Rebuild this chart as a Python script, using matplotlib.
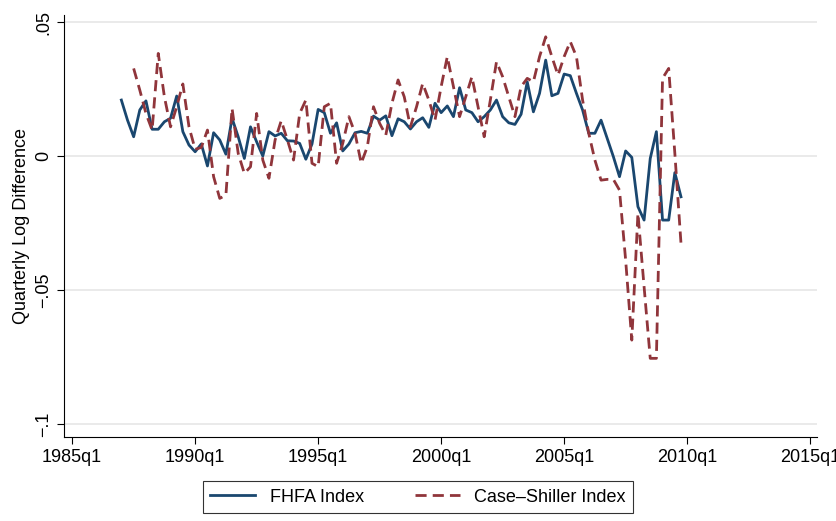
import numpy as np
import matplotlib
matplotlib.use("Agg")
import matplotlib.pyplot as plt

plt.rcParams['font.family'] = ['Liberation Sans', 'DejaVu Sans']

# --- Data (quarterly log differences) ---
fhfa_start = 1987.0   # 1987q1
fhfa = [
    .0209, .0134, .0072, .0172, .0206, .0100, .0100, .0128, .0141, .0224,
    .0091, .0041, .0016, .0045, -.0037, .0087, .0060, .0007, .0141, .0072,
    -.0009, .0109, .0053, .0000, .0091, .0075, .0085, .0057, .0056, .0047,
    -.0012, .0045, .0174, .0162, .0085,
    .0124, .0019, .0045, .0087, .0092, .0085, .0149, .0134, .0150, .0076,
    .0139, .0128, .0101, .0128, .0143, .0107, .0197, .0162, .0187, .0147,
    .0255, .0172, .0162, .0128, .0147, .0172, .0209, .0147, .0124, .0118,
    .0156, .0277, .0165, .0234, .0358,
    .0225, .0234, .0306, .0300, .0234, .0172, .0085, .0085, .0134, .0066,
    -.0002, -.0077, .0019, -.0005, -.0189, -.0239, -.0009, .0091, -.0239, -.0239,
    -.0062, -.0152,
]
cs_start = 1987.5     # 1987q3
case_shiller = [
    .0327, .0246, .0159, .0097, .0383, .0221, .0109, .0184, .0269, .0109,
    .0025, .0032, .0097, -.0077, -.0158, -.0146, .0178, .0010, -.0065, -.0040,
    .0159, -.0015, -.0083, .0060, .0132, .0060, -.0015, .0159, .0209, -.0027,
    -.0040, .0184, .0197, -.0027,
    .0047, .0147, .0085, -.0027, .0035, .0184, .0122, .0078, .0197, .0284,
    .0221, .0109, .0184, .0271, .0209, .0134, .0259, .0371, .0259, .0147,
    .0221, .0296, .0184, .0072, .0209, .0352, .0296, .0221, .0147, .0259,
    .0290, .0277, .0371, .0445,
    .0371, .0302, .0371, .0427, .0371, .0209, .0085, -.0015, -.0090, -.0087,
    -.0087, -.0127, -.0388, -.0687, -.0214, -.0488, -.0755, -.0755, .0290, .0327,
    .0010, -.0326,
]
xticks = [1985, 1990, 1995, 2000, 2005, 2010, 2015]
xtick_labels = [f"{y}q1" for y in xticks]
yticks = [-.1, -.05, 0, .05]
ytick_labels = ["\u2212.1", "\u2212.05", "0", ".05"]

t_fhfa = fhfa_start + np.arange(len(fhfa)) / 4
t_cs = cs_start + np.arange(len(case_shiller)) / 4

fig = plt.figure(figsize=(8.36, 5.21), dpi=100)
ax = fig.add_axes([0.0766, 0.161, 0.9007, 0.81])

ax.plot(t_fhfa, fhfa, color="#1a476f", linewidth=2, label="FHFA Index", zorder=3)
ax.plot(t_cs, case_shiller, color="#90353b", linewidth=2, linestyle=(0, (4, 2.2)),
        label="Case\u2013Shiller Index", zorder=3)

ax.set_xlim(1984.67, 2015.28)
ax.set_ylim(-.1049, .0526)
ax.set_xticks(xticks)
ax.set_xticklabels(xtick_labels, fontsize=13)
ax.set_yticks(yticks)
ax.set_yticklabels(ytick_labels, fontsize=13, rotation=90, va="center")
ax.set_ylabel("Quarterly Log Difference", fontsize=13)
ax.grid(axis="y", color="#e6e6e6", linewidth=1.2, zorder=0)
for s in ["top", "right"]:
    ax.spines[s].set_visible(False)
ax.tick_params(length=5)

leg = fig.legend(loc="center", bbox_to_anchor=(0.5, 0.046), ncol=2, fontsize=13,
                 frameon=True, fancybox=False, edgecolor="black", handlelength=2.5,
                 columnspacing=2.8)
leg.get_frame().set_linewidth(0.8)

fig.savefig("out.png", dpi=100)
